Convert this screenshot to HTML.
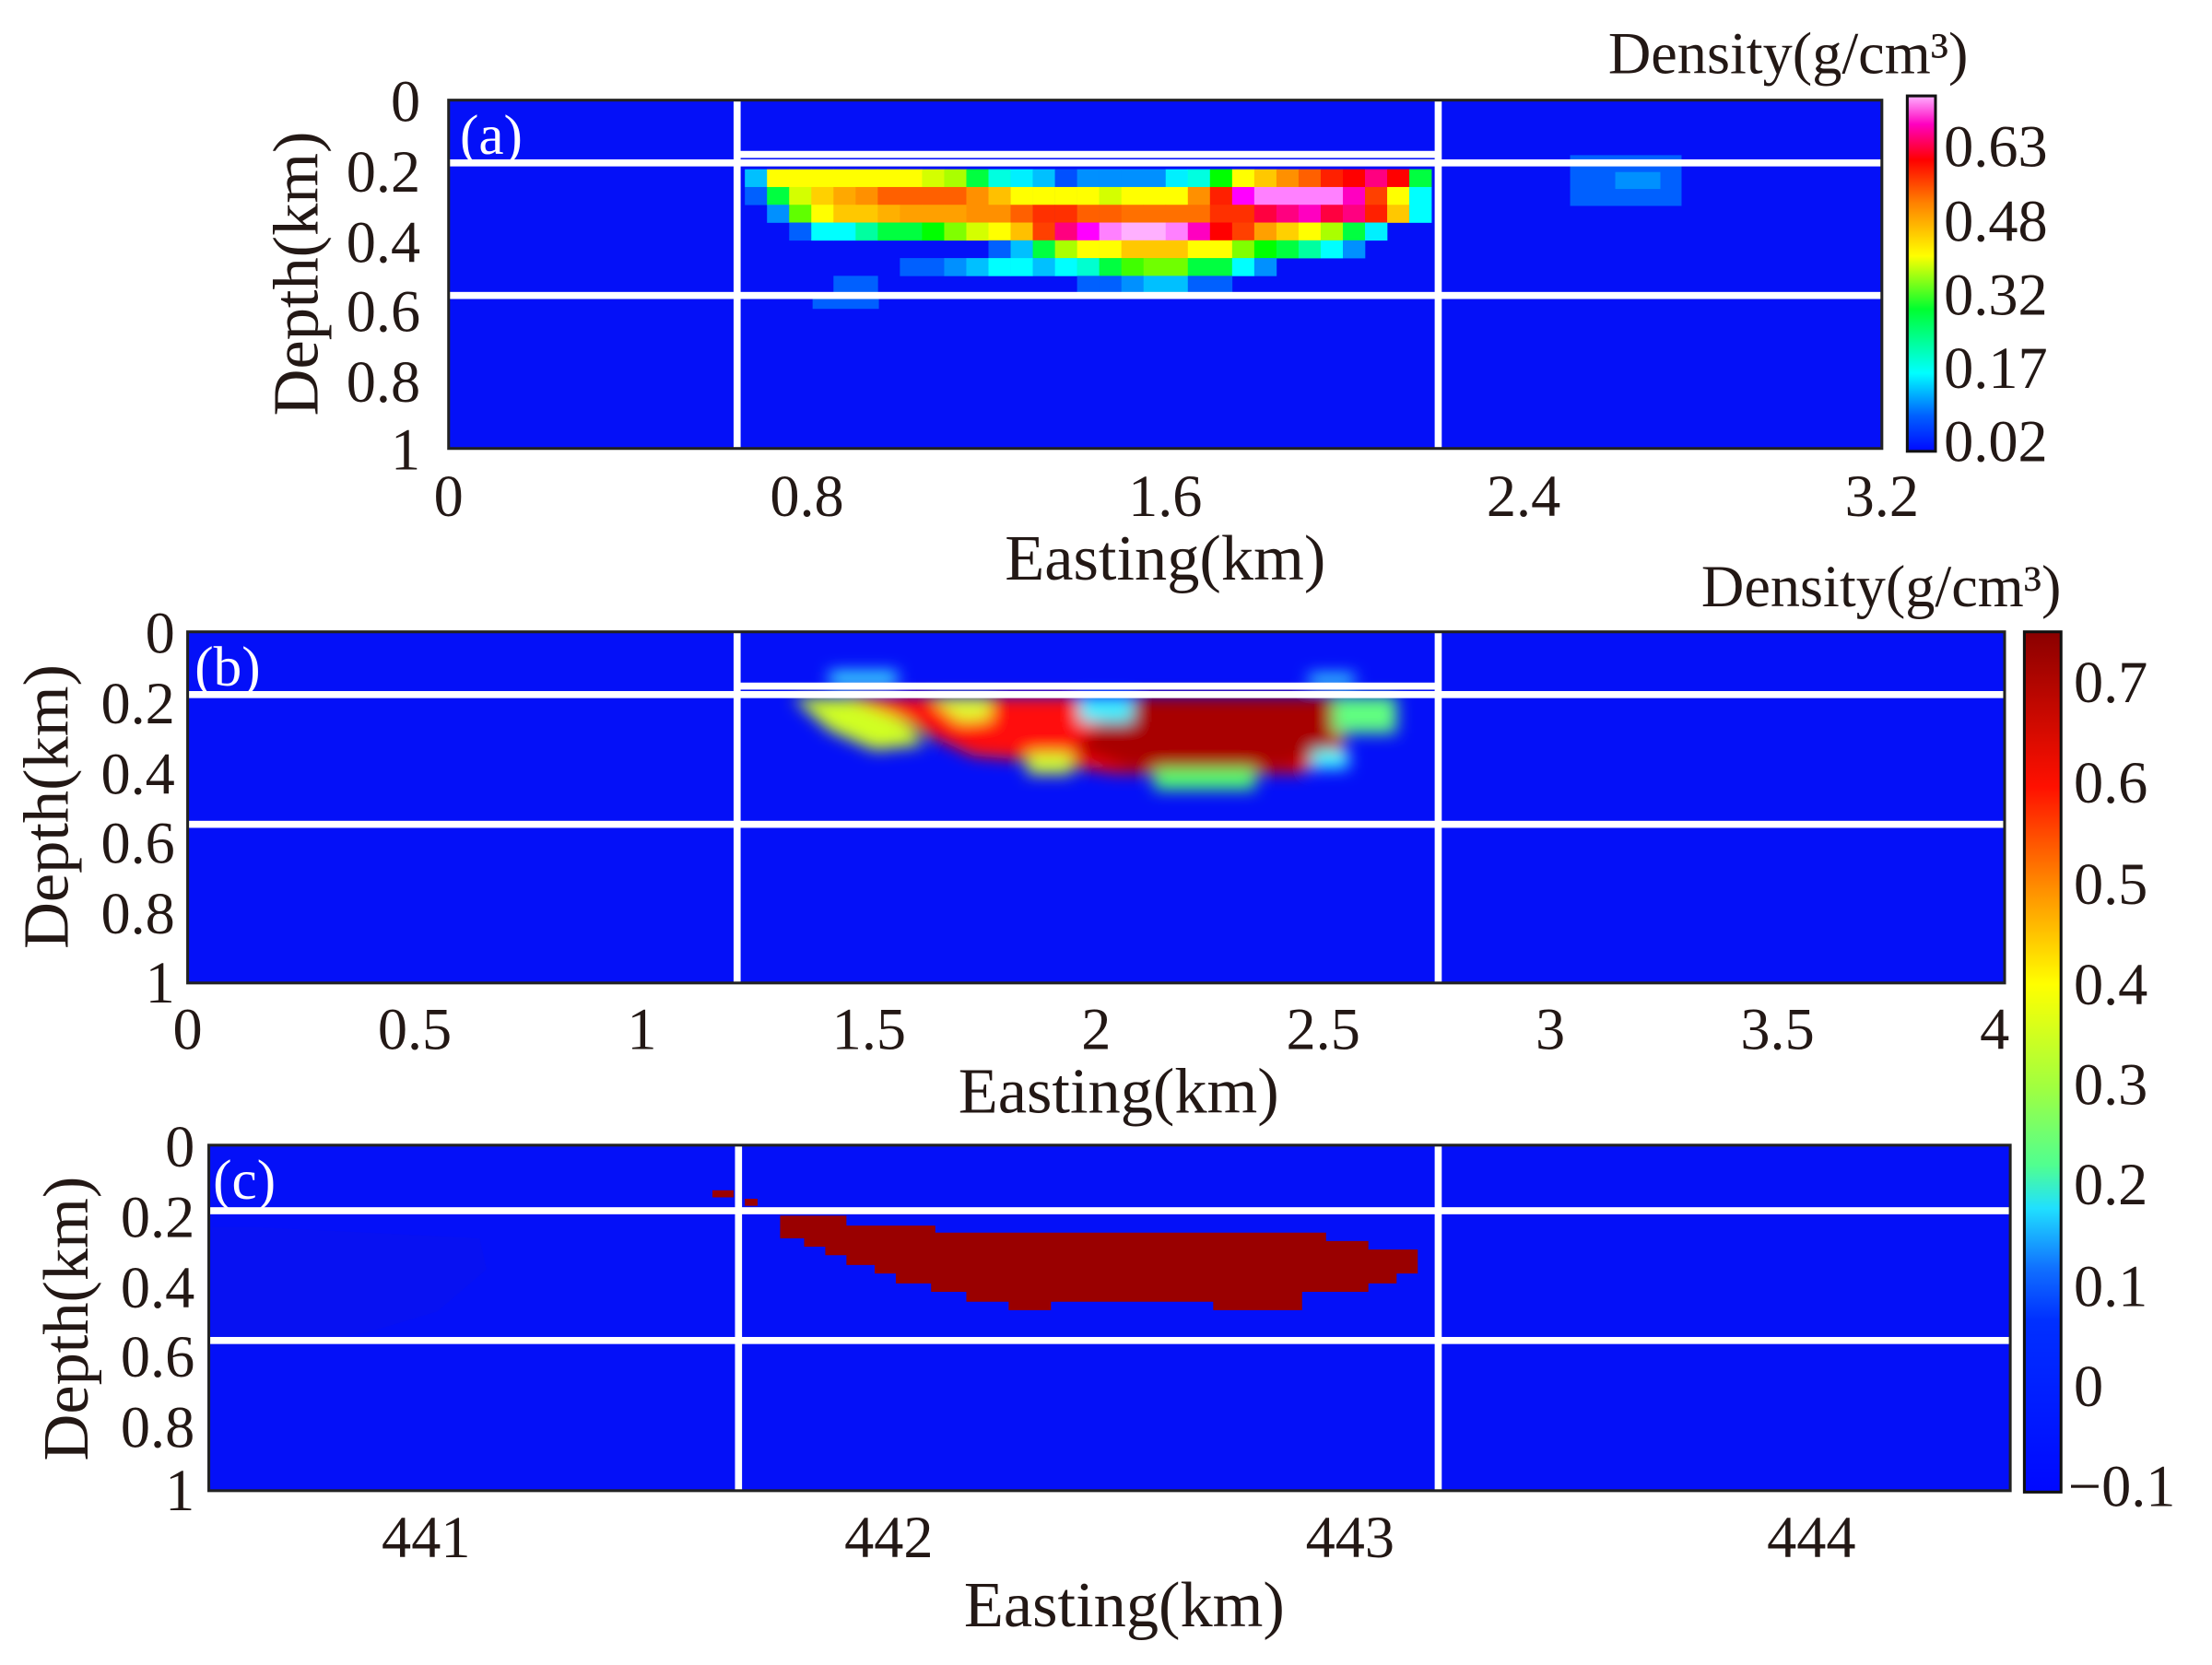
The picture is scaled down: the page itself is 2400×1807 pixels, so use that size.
<!DOCTYPE html>
<html><head><meta charset="utf-8">
<style>html,body{margin:0;padding:0;background:#fff}svg{display:block}
text{font-family:"Liberation Serif",serif;fill:#231815}</style></head>
<body>
<svg id="s" width="2400" height="1807" viewBox="0 0 1568 1180.6" xmlns="http://www.w3.org/2000/svg">
<defs>
<linearGradient id="ga" x1="0" y1="1" x2="0" y2="0">
<stop offset="0" stop-color="#0008ff"/><stop offset="0.1" stop-color="#0060ff"/>
<stop offset="0.22" stop-color="#00ffff"/><stop offset="0.4" stop-color="#00ff30"/>
<stop offset="0.55" stop-color="#ffff00"/><stop offset="0.7" stop-color="#ff8000"/>
<stop offset="0.82" stop-color="#ff0000"/><stop offset="0.92" stop-color="#ff00c0"/>
<stop offset="1" stop-color="#ffb0ff"/></linearGradient>
<linearGradient id="gb" x1="0" y1="1" x2="0" y2="0">
<stop offset="0" stop-color="#0008ff"/><stop offset="0.2" stop-color="#0030ff"/>
<stop offset="0.26" stop-color="#1070ff"/><stop offset="0.33" stop-color="#20e0ff"/>
<stop offset="0.38" stop-color="#50ff90"/><stop offset="0.47" stop-color="#a0ff40"/>
<stop offset="0.59" stop-color="#ffff00"/><stop offset="0.70" stop-color="#ff9000"/>
<stop offset="0.82" stop-color="#ff1000"/><stop offset="1" stop-color="#8a0000"/></linearGradient>
<filter id="bl" x="-20%" y="-50%" width="140%" height="200%"><feGaussianBlur stdDeviation="5.5"/></filter>
<clipPath id="cb"><rect x="133" y="448" width="1288" height="249"/></clipPath>
</defs>

<!-- Panel a -->
<rect x="318" y="71" width="1016" height="247" fill="#0410f8"/>
<g id="cells"></g>
<rect x="1113" y="110" width="79" height="36" fill="#0060ff"/>
<rect x="1145" y="122" width="32" height="12" fill="#0090ff"/>
<rect x="576" y="209" width="47" height="10" fill="#0060ff"/>
<rect x="318" y="113" width="1016" height="5" fill="#fff"/>
<rect x="524" y="107" width="495" height="5" fill="#fff"/>
<rect x="318" y="207" width="1016" height="5" fill="#fff"/>
<rect x="520" y="71" width="5" height="247" fill="#fff"/>
<rect x="1017" y="71" width="5" height="247" fill="#fff"/>
<rect x="318" y="71" width="1016" height="247" fill="none" stroke="#222" stroke-width="2"/>
<text x="326" y="109" font-size="40" style="fill:#fff">(a)</text>
<g font-size="42" text-anchor="end">
<text x="298" y="86">0</text><text x="298" y="136">0.2</text><text x="298" y="186">0.4</text>
<text x="298" y="235">0.6</text><text x="298" y="285">0.8</text><text x="298" y="333">1</text></g>
<g font-size="42" text-anchor="middle">
<text x="318" y="366">0</text><text x="572" y="366">0.8</text><text x="826" y="366">1.6</text>
<text x="1080" y="366">2.4</text><text x="1334" y="366">3.2</text></g>
<text x="826" y="411" font-size="46" text-anchor="middle">Easting(km)</text>
<text transform="translate(225,194) rotate(-90)" font-size="46" text-anchor="middle">Depth(km)</text>
<rect x="1352" y="68" width="20" height="252" fill="url(#ga)" stroke="#111" stroke-width="2"/>
<g font-size="42"><text x="1378" y="118">0.63</text><text x="1378" y="171">0.48</text>
<text x="1378" y="223">0.32</text><text x="1378" y="275">0.17</text><text x="1378" y="327">0.02</text></g>
<text x="1140" y="52" font-size="42">Density(g/cm³)</text>

<!-- Panel b -->
<rect x="133" y="448" width="1288" height="249" fill="#0410f8"/>
<g clip-path="url(#cb)" filter="url(#bl)">
<polygon points="562,495 612,495 645,514 655,528 620,532 588,518" fill="#d0ff20"/>
<polygon points="600,494 952,494 952,534 922,548 790,548 740,540 690,536 660,522 640,510" fill="#ff0808"/>
<polygon points="800,494 948,494 948,530 912,545 800,545 760,532" fill="#a80000"/>
<polygon points="660,495 702,495 702,510 680,512" fill="#e0ff30"/>
<rect x="765" y="494" width="38" height="18" fill="#40f0ff"/>
<rect x="945" y="494" width="45" height="26" fill="#60ff80"/>
<rect x="930" y="532" width="26" height="13" fill="#40ffff"/>
<rect x="818" y="545" width="72" height="15" fill="#50ff70"/>
<rect x="728" y="534" width="32" height="15" fill="#d0ff30"/>
<rect x="588" y="476" width="48" height="10" fill="#40f0ff"/>
<rect x="928" y="478" width="32" height="8" fill="#40f0ff"/>
</g>
<rect x="133" y="490" width="1288" height="5" fill="#fff"/>
<rect x="524" y="484" width="495" height="5" fill="#fff"/>
<rect x="133" y="582" width="1288" height="5" fill="#fff"/>
<rect x="520" y="448" width="5" height="249" fill="#fff"/>
<rect x="1017" y="448" width="5" height="249" fill="#fff"/>
<rect x="133" y="448" width="1288" height="249" fill="none" stroke="#222" stroke-width="2"/>
<text x="138" y="486" font-size="40" style="fill:#fff">(b)</text>
<g font-size="42" text-anchor="end">
<text x="124" y="463">0</text><text x="124" y="513">0.2</text><text x="124" y="563">0.4</text>
<text x="124" y="612">0.6</text><text x="124" y="662">0.8</text><text x="124" y="711">1</text></g>
<g font-size="42" text-anchor="middle">
<text x="133" y="744">0</text><text x="294" y="744">0.5</text><text x="455" y="744">1</text>
<text x="616" y="744">1.5</text><text x="777" y="744">2</text><text x="938" y="744">2.5</text>
<text x="1099" y="744">3</text><text x="1260" y="744">3.5</text><text x="1414" y="744">4</text></g>
<text x="793" y="789" font-size="46" text-anchor="middle">Easting(km)</text>
<text transform="translate(48,572) rotate(-90)" font-size="46" text-anchor="middle">Depth(km)</text>
<rect x="1435" y="448" width="26" height="610" fill="url(#gb)" stroke="#111" stroke-width="2"/>
<g font-size="42"><text x="1470" y="498">0.7</text><text x="1470" y="569">0.6</text>
<text x="1470" y="641">0.5</text><text x="1470" y="712">0.4</text><text x="1470" y="783">0.3</text>
<text x="1470" y="854">0.2</text><text x="1470" y="926">0.1</text><text x="1470" y="997">0</text>
<text x="1466" y="1068">−0.1</text></g>
<text x="1206" y="430" font-size="42">Density(g/cm³)</text>

<!-- Panel c -->
<rect x="148" y="812" width="1277" height="245" fill="#0410f8"/>
<polygon points="180,870 340,878 345,900 310,930 260,945 200,955 150,955 150,870" fill="#0a12ee" opacity="0.6"/>
<polygon points="553,862 600,862 600,869 663,869 663,874 940,874 940,880 970,880 970,886 1005,886 1005,903 990,903 990,910 970,910 970,916 923,916 923,929 860,929 860,923 745,923 745,929 715,929 715,923 685,923 685,916 660,916 660,910 635,910 635,903 620,903 620,897 600,897 600,890 585,890 585,884 570,884 570,878 553,878" fill="#9a0000"/>
<rect x="505" y="844" width="15" height="5" fill="#9a0000"/>
<rect x="528" y="850" width="9" height="5" fill="#9a0000"/>
<rect x="148" y="856" width="1277" height="5" fill="#fff"/>
<rect x="148" y="948" width="1277" height="5" fill="#fff"/>
<rect x="521" y="812" width="5" height="245" fill="#fff"/>
<rect x="1017" y="812" width="5" height="245" fill="#fff"/>
<rect x="148" y="812" width="1277" height="245" fill="none" stroke="#222" stroke-width="2"/>
<text x="151" y="850" font-size="40" style="fill:#fff">(c)</text>
<g font-size="42" text-anchor="end">
<text x="138" y="827">0</text><text x="138" y="877">0.2</text><text x="138" y="927">0.4</text>
<text x="138" y="976">0.6</text><text x="138" y="1026">0.8</text><text x="138" y="1071">1</text></g>
<g font-size="42" text-anchor="middle">
<text x="302" y="1104">441</text><text x="630" y="1104">442</text>
<text x="957" y="1104">443</text><text x="1284" y="1104">444</text></g>
<text x="797" y="1153" font-size="46" text-anchor="middle">Easting(km)</text>
<text transform="translate(62,935) rotate(-90)" font-size="46" text-anchor="middle">Depth(km)</text>
</svg>
<script>
var rows=[
{r:0,s:0,c:"00c0ff,ffff00,ffff00,ffff00,ffff00,ffff00,ffff00,ffff00,d4ff00,aaff00,00ff40,00ffe0,00f0ff,00c0ff,0050ff,0090ff,0090ff,0090ff,0090ff,00f0ff,00ffe0,00ff00,ffff00,ffc800,ff9000,ff6000,ff2000,ff0000,ff0080,ff0000,00ff40"},
{r:1,s:0,c:"0060ff,00ff40,d4ff00,ffd000,ffa800,ff9000,ff6000,ff6000,ff6000,ff6000,ff9000,ffc000,ffff00,ffff00,ffff00,ffff00,d4ff00,ffff00,ffff00,ffff00,ff9000,ff2000,ff00ff,ff80ff,ff80ff,ff80ff,ff80ff,ff00c0,ff4000,ffff00,00ffff"},
{r:2,s:1,c:"0090ff,60ff00,ffff00,ffc800,ffc800,ffb000,ffa000,ffa000,ffa000,ff9000,ff9000,ff6000,ff3000,ff3000,ff6000,ff6000,ff7000,ff7000,ff7000,ff7000,ff3000,ff3000,ff0040,ff0080,ff00c0,ff0040,ff0080,ff2000,ffc800,00ffff"},
{r:3,s:2,c:"0060ff,00ffff,00ffff,00ffa0,00ff40,00ff40,00ff00,80ff00,d4ff00,ffff00,ffc000,ff4000,ff0080,ff00ff,ff80ff,ffb0ff,ffb0ff,ff80ff,ff00c0,ff0000,ff4000,ffa000,ffd000,ffff00,aaff00,00ff40,00f0ff"},
{r:4,s:11,c:"0060ff,00c0ff,00ff40,aaff00,ffff00,ffff00,ffc800,ffc800,ffc800,ffff00,ffff00,80ff00,00ff00,00ff40,00ffa0,00ffff,0090ff"},
{r:5,s:7,c:"0060ff,0060ff,0090ff,00c0ff,00ffff,00ffff,00c0ff,00ffff,00ffd0,00ff40,40ff00,70ff00,70ff00,00ff40,00ff40,00ffff,0090ff"},
{r:6,s:4,c:"0060ff,0060ff"},
{r:6,s:15,c:"0060ff,0060ff,0090ff,00c0ff,00c0ff,0060ff,0060ff"}];
var g=document.getElementById("cells"),ns="http://www.w3.org/2000/svg";
rows.forEach(function(o){o.c.split(",").forEach(function(col,i){
var e=document.createElementNS(ns,"rect");e.setAttribute("x",528+(o.s+i)*15.7);
e.setAttribute("y",120+o.r*12.6);e.setAttribute("width",15.9);e.setAttribute("height",12.8);
e.setAttribute("fill","#"+col);g.appendChild(e);});});
</script>
</body></html>
